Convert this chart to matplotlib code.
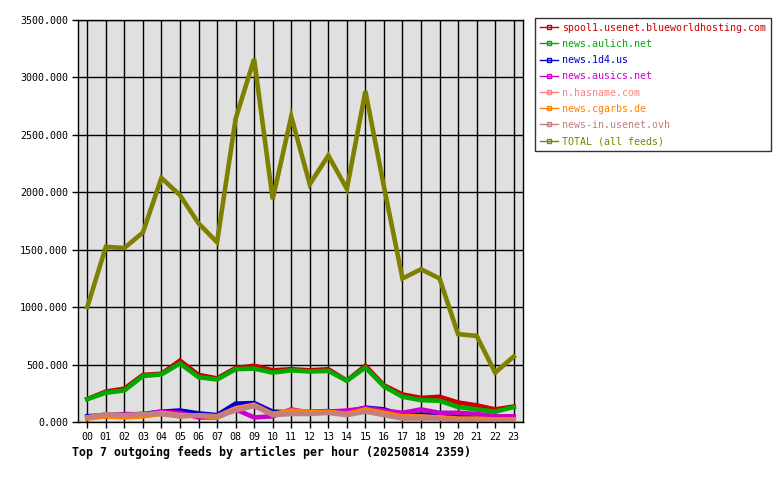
import matplotlib
matplotlib.use('Agg')
import matplotlib.pyplot as plt
from matplotlib.lines import Line2D

hours = ['%02d' % h for h in range(24)]

spool1 = [200, 265, 290, 410, 420, 535, 410, 380, 470, 490, 450, 460,
          450, 460, 360, 490, 320, 240, 210, 220, 170, 145, 110, 135]
aulich = [200, 255, 275, 400, 415, 510, 390, 370, 460, 465, 430, 450,
          440, 445, 360, 475, 310, 220, 190, 185, 130, 110, 90, 130]
news1d4 = [50, 60, 65, 70, 90, 100, 75, 60, 160, 165, 90, 85,
           90, 95, 85, 125, 110, 60, 65, 60, 55, 50, 30, 40]
ausics = [40, 50, 70, 65, 90, 80, 40, 40, 110, 40, 50, 110,
          80, 90, 100, 120, 100, 80, 110, 80, 80, 70, 50, 50]
hasname = [40, 60, 50, 60, 80, 60, 55, 50, 120, 150, 70, 90,
           80, 80, 70, 100, 70, 40, 40, 40, 20, 20, 20, 20]
cgarbs = [30, 50, 40, 50, 70, 50, 55, 40, 110, 140, 70, 100,
          90, 90, 70, 110, 80, 50, 50, 40, 30, 30, 20, 20]
newsin = [40, 70, 60, 70, 70, 50, 60, 50, 100, 140, 60, 70,
          70, 80, 60, 90, 60, 30, 30, 30, 10, 10, 10, 10]
total = [1000, 1525, 1515, 1650, 2125, 1975, 1730, 1565, 2640, 3160, 1940, 2660,
         2070, 2320, 2030, 2880, 2050, 1250, 1330, 1250, 765, 750, 430, 570]

names = ['spool1.usenet.blueworldhosting.com', 'news.aulich.net', 'news.1d4.us',
         'news.ausics.net', 'n.hasname.com', 'news.cgarbs.de',
         'news-in.usenet.ovh', 'TOTAL (all feeds)']
series = [spool1, aulich, news1d4, ausics, hasname, cgarbs, newsin, total]
colors = ['#cc0000', '#00aa00', '#0000cc', '#cc00cc', '#ff8080',
          '#ff8000', '#c08080', '#808000']

mono = 'DejaVu Sans Mono'
fs = 7.2

fig = plt.figure(figsize=(7.8, 4.8), dpi=100)
ax = fig.add_axes([0.1, 0.1208, 0.5705, 0.8375])
ax.set_facecolor('#e0e0e0')

x = list(range(24))
for s, c in zip(series, colors):
    ax.plot(x, s, color=c, lw=3.3, solid_joinstyle='miter')

ax.set_xlim(-0.5, 23.5)
ax.set_ylim(0, 3500)
ax.set_xticks(x)
ax.set_xticklabels(hours, fontfamily=mono, fontsize=fs)
yt = list(range(0, 3501, 500))
ax.set_yticks(yt)
ax.set_yticklabels(['%.3f' % v for v in yt], fontfamily=mono, fontsize=fs)
ax.grid(True, color='black', lw=1)
ax.tick_params(length=4, width=1, color='black', pad=3)
for sp in ax.spines.values():
    sp.set_color('black')
    sp.set_linewidth(1)

handles = [Line2D([0], [0], color=c, lw=1, marker='s', markersize=3,
                  markerfacecolor='none', markeredgecolor=c) for c in colors]
leg = fig.legend(handles, names, loc='upper left', bbox_to_anchor=(0.686, 0.963),
                 prop={'family': mono, 'size': fs}, frameon=True, fancybox=False,
                 handlelength=1.8, handletextpad=0.35, borderpad=0.5,
                 labelspacing=0.62, borderaxespad=0)
leg.get_frame().set_edgecolor('black')
leg.get_frame().set_linewidth(1)
for t, c in zip(leg.get_texts(), colors):
    t.set_color(c)

fig.text(0.092, 0.058, 'Top 7 outgoing feeds by articles per hour (20250814 2359)',
         fontfamily=mono, fontsize=8.4, fontweight='bold', ha='left', va='center')

fig.savefig('out.png', dpi=100)
